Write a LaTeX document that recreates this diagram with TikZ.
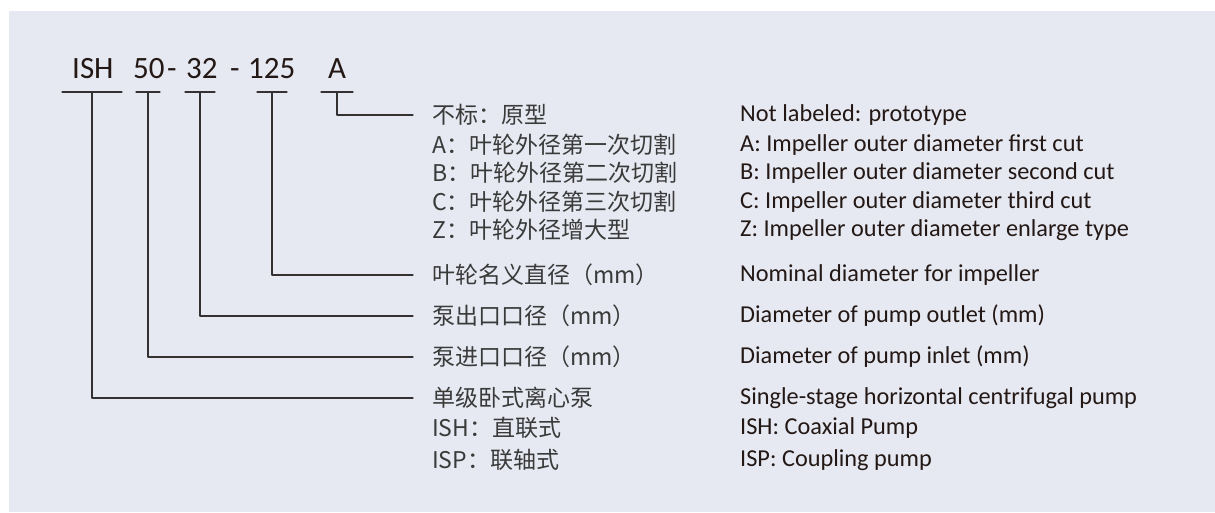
\documentclass[tikz,border=0pt]{standalone}
\usepackage{fontspec}
\usepackage{tikz}
\usetikzlibrary{calc}
\newfontfamily\cjk{Noto Sans CJK SC}
\newfontfamily\enfont{Carlito}
\definecolor{panel}{HTML}{E6E9F1}
\definecolor{ink}{HTML}{231815}
\definecolor{cninkc}{HTML}{3A3A3A}
\definecolor{wire}{HTML}{353132}
\tikzset{
every picture/.append style={
    line join=round,
    line cap=round
  },
codelabel/.style={anchor=base west,inner sep=0pt,text=ink,font=\enfont\fontsize{31}{31}\selectfont},
cnlabel/.style={anchor=west,inner sep=0pt,text=cninkc,font=\cjk\fontsize{23}{23}\selectfont},
enlabel/.style={anchor=west,inner sep=0pt,text=ink,font=\enfont\fontsize{24.3}{24.3}\selectfont},
leader/.style={draw=wire,line width=1.3pt}
}

\begin{document}
\begin{tikzpicture}[x=1pt,y=-1pt]
    \fill [panel] (0,0) rectangle (1215,512);
    \fill [white] (0,0) rectangle (9,512);
    \fill [white] (0,0) rectangle (1215,11);
    \useasboundingbox (0,0) rectangle (1215,512);
    % model code
    \node [codelabel] (ish) at (72,78) {ISH};
    \node [codelabel] (n50) at (133,78) {50};
    \node [codelabel] (dsh1) at (167,78) {-};
    \node [codelabel] (n32) at (186,78) {32};
    \node [codelabel] (dsh2) at (230,78) {-};
    \node [codelabel] (n125) at (248,78) {125};
    \node [codelabel] (nA) at (328,78) {A};
    \foreach \c/\x/\w in {ish/92/30,n50/148/12,n32/200/15,n125/272/15,nA/337/16} {
        \coordinate (u\c) at (\x,92);
        \draw [leader] ([xshift=-\w pt]u\c) -- ([xshift=\w pt]u\c);
    }
    % chinese labels
    \node [cnlabel] (cnNone) at (432,115) {不标：原型};
    \node [cnlabel] (cnA) at (432,145) {A：叶轮外径第一次切割};
    \node [cnlabel] (cnB) at (432,173) {B：叶轮外径第二次切割};
    \node [cnlabel] (cnC) at (432,202) {C：叶轮外径第三次切割};
    \node [cnlabel] (cnZ) at (432,230) {Z：叶轮外径增大型};
    \node [cnlabel] (cnNom) at (432,275) {叶轮名义直径（mm）};
    \node [cnlabel] (cnOut) at (432,316) {泵出口口径（mm）};
    \node [cnlabel] (cnIn) at (432,357) {泵进口口径（mm）};
    \node [cnlabel] (cnType) at (432,398) {单级卧式离心泵};
    \node [cnlabel] (cnISH) at (432,428) {ISH：直联式};
    \node [cnlabel] (cnISP) at (432,460) {ISP：联轴式};
    % english labels
    \node [enlabel] (enNone) at (740,115) {Not labeled: prototype};
    \node [enlabel] (enA) at (740,145) {A: Impeller outer diameter first cut};
    \node [enlabel] (enB) at (740,173) {B: Impeller outer diameter second cut};
    \node [enlabel] (enC) at (740,202) {C: Impeller outer diameter third cut};
    \node [enlabel] (enZ) at (740,230) {Z: Impeller outer diameter enlarge type};
    \node [enlabel] (enNom) at (740,275) {Nominal diameter for impeller};
    \node [enlabel] (enOut) at (740,316) {Diameter of pump outlet~(mm)};
    \node [enlabel] (enIn) at (740,357) {Diameter of pump inlet~(mm)};
    \node [enlabel] (enType) at (740,398) {Single-stage horizontal centrifugal pump};
    \node [enlabel] (enISH) at (740,428) {ISH: Coaxial Pump};
    \node [enlabel] (enISP) at (740,460) {ISP: Coupling pump};
    % leaders
    \draw [leader] (unA) |- ([xshift=-19pt]cnNone.west);
    \draw [leader] (un125) |- ([xshift=-19pt]cnNom.west);
    \draw [leader] (un32) |- ([xshift=-19pt]cnOut.west);
    \draw [leader] (un50) |- ([xshift=-19pt]cnIn.west);
    \draw [leader] (uish) |- ([xshift=-19pt]cnType.west);
\end{tikzpicture}
\end{document}
